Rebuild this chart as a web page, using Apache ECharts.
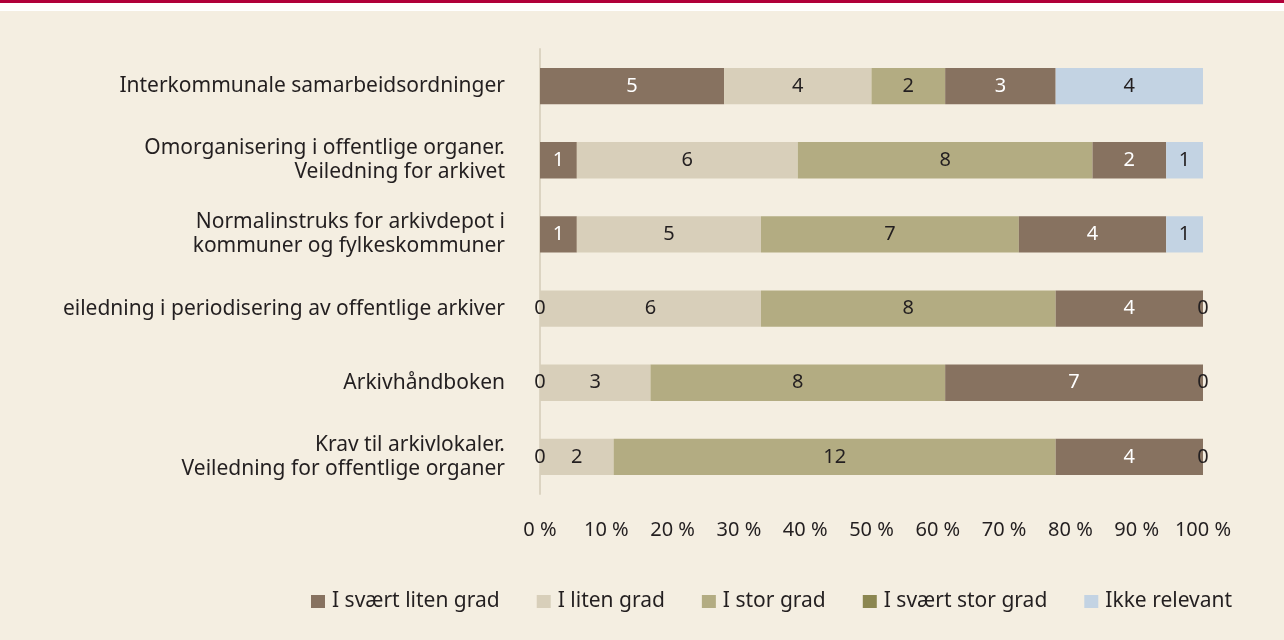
<!DOCTYPE html>
<html>
<head>
<meta charset="utf-8">
<script src="https://cdn.jsdelivr.net/npm/echarts@6/dist/echarts.min.js"></script>
<style>
  html, body { margin: 0; padding: 0; background: #fff; }
  .topline { height: 3px; background: #b0003a; }
  .gap { height: 8px; background: #fff; }
  #chart { width: 1284px; height: 629px; background: #f4eee1; }
</style>
</head>
<body>
<div class="topline"></div>
<div class="gap"></div>
<div id="chart"></div>
<script>
const categories = [
  'Interkommunale samarbeidsordninger',
  'Omorganisering i offentlige organer.\nVeiledning for arkivet',
  'Normalinstruks for arkivdepot i\nkommuner og fylkeskommuner',
  'eiledning i periodisering av offentlige arkiver',
  'Arkivhåndboken',
  'Krav til arkivlokaler.\nVeiledning for offentlige organer'
];
const seriesNames = ['I svært liten grad', 'I liten grad', 'I stor grad', 'I svært stor grad', 'Ikke relevant'];
const sværtLiten = [5, 1, 1, 0, 0, 0];
const liten = [4, 6, 5, 6, 3, 2];
const stor = [2, 8, 7, 8, 8, 12];
const sværtStor = [3, 2, 4, 4, 7, 4];
const ikkeRelevant = [4, 1, 1, 0, 0, 0];
const xTicks = [0, 10, 20, 30, 40, 50, 60, 70, 80, 90, 100];

const counts = [sværtLiten, liten, stor, sværtStor, ikkeRelevant];
const barColors = ['#877260', '#d8cfba', '#b3ac82', '#877260', '#c3d3e3'];
const legendColors = ['#877260', '#d8cfba', '#b3ac82', '#8b8650', '#c3d3e3'];
const darkText = '#231f20';

const totals = categories.map((c, i) => counts.reduce((s, arr) => s + arr[i], 0));
const font = '"Noto Sans", "Open Sans", sans-serif';

const chart = echarts.init(document.getElementById('chart'));
chart.setOption({
  animation: false,
  textStyle: { fontFamily: font },
  grid: { left: 540, right: 81, top: 38, bottom: 146, containLabel: false },
  legend: {
    bottom: 23,
    left: 306,
    itemWidth: 14,
    itemHeight: 13,
    itemGap: 37,
    icon: 'rect',
    textStyle: { fontSize: 21, color: darkText, fontFamily: font, padding: [0, 0, 0, 2] },
    data: seriesNames.map((n, i) => ({ name: n, itemStyle: { color: legendColors[i] } }))
  },
  xAxis: {
    type: 'value',
    min: 0,
    max: 100,
    interval: 10,
    axisLine: { show: false },
    axisTick: { show: false },
    splitLine: { show: false },
    axisLabel: {
      formatter: v => xTicks.includes(v) ? v + ' %' : '',
      fontSize: 20,
      color: darkText,
      margin: 26,
      fontFamily: font
    }
  },
  yAxis: {
    type: 'category',
    inverse: true,
    data: categories,
    axisLine: { show: true, lineStyle: { color: '#dcd4c2', width: 2 } },
    axisTick: { show: false },
    axisLabel: {
      fontSize: 21,
      color: darkText,
      margin: 35,
      lineHeight: 24,
      align: 'right',
      fontFamily: font
    }
  },
  series: seriesNames.map((name, s) => ({
    name: name,
    type: 'bar',
    stack: 'total',
    barWidth: '49%',
    itemStyle: { color: barColors[s] },
    label: {
      show: true,
      position: 'inside',
      fontSize: 20,
      fontFamily: font,
      formatter: p => String(counts[s][p.dataIndex])
    },
    data: counts[s].map((v, i) => {
      const onDark = (s === 0 || s === 3) && v > 0;
      return {
        value: v / totals[i] * 100,
        label: { color: onDark ? '#ffffff' : darkText }
      };
    })
  }))
});
</script>
</body>
</html>
